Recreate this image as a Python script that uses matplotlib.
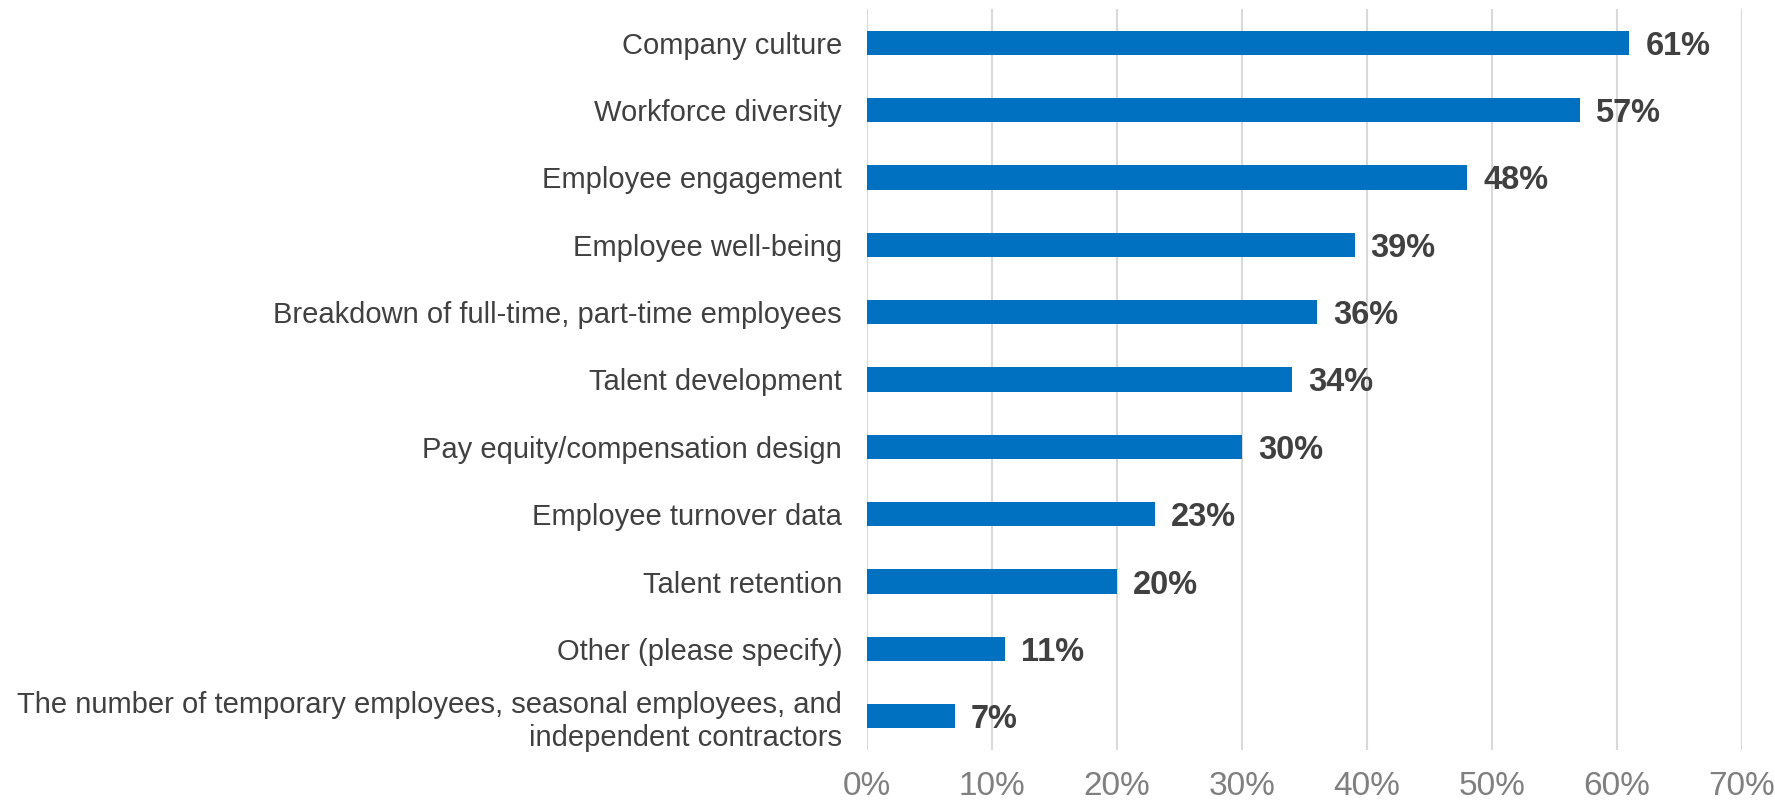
import numpy as np
import matplotlib.pyplot as plt
from matplotlib.ticker import FuncFormatter

plt.rcParams['font.family'] = ['Liberation Sans', 'DejaVu Sans']

mybar = '#0070C0'
mytext = '#404040'
mygrid = '#D9D9D9'

categories = [
    'Company culture',
    'Workforce diversity',
    'Employee engagement',
    'Employee well-being',
    'Breakdown of full-time, part-time employees',
    'Talent development',
    'Pay equity/compensation design',
    'Employee turnover data',
    'Talent retention',
    'Other (please specify)',
    'The number of temporary employees, seasonal employees, and\nindependent contractors',
]
values = [61, 57, 48, 39, 36, 34, 30, 23, 20, 11, 7]
xticks = [0, 10, 20, 30, 40, 50, 60, 70]

fig = plt.figure(figsize=(17.75, 8), dpi=100)
ax = fig.add_axes([0.4885, 0.0625, 0.4929, 0.92625])

ypos = np.arange(len(categories))
ax.barh(ypos, values, height=0.36, color=mybar, zorder=3)

# value labels just right of each bar
for y, v in zip(ypos, values):
    ax.annotate(f'{v}%', xy=(v, y), xytext=(16, 0), textcoords='offset pixels',
                va='center_baseline', ha='left', fontsize=23.5,
                fontweight='bold', color=mytext)

ax.set_xlim(0, 70)
ax.set_ylim(len(categories) - 0.5, -0.5)
ax.set_xticks(xticks)
ax.xaxis.set_major_formatter(FuncFormatter(lambda x, p: f'{x:.0f}%'))
ax.set_yticks(ypos)
ax.set_yticklabels(categories, fontsize=21, color=mytext, linespacing=1.2)

ax.tick_params(axis='x', length=0, pad=15, labelsize=24, labelcolor='#7F7F7F')
ax.tick_params(axis='y', length=0, pad=18)
ax.grid(axis='x', color=mygrid, linewidth=1.5, zorder=0)
for s in ax.spines.values():
    s.set_visible(False)

plt.savefig('out.png', dpi=100)
